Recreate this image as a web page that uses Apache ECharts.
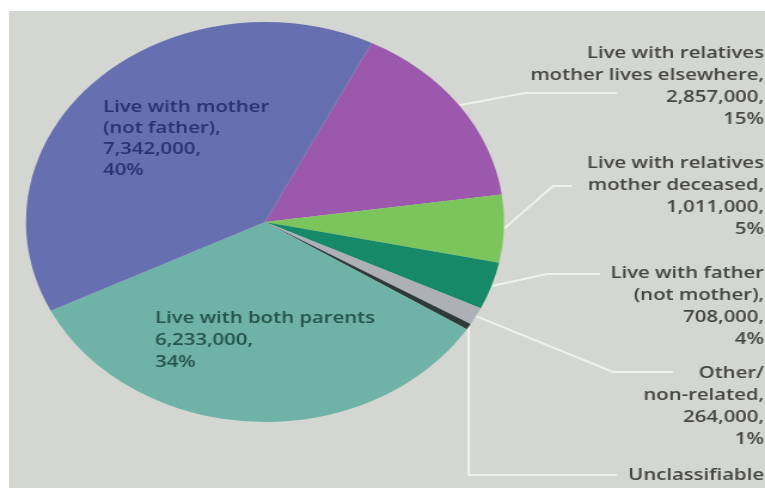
<!DOCTYPE html>
<html><head><meta charset="utf-8">
<script src="https://cdn.jsdelivr.net/npm/echarts@6/dist/echarts.min.js"></script>
<style>
html,body{margin:0;padding:0;width:765px;height:488px;overflow:hidden;background:#ffffff;}
#bg{position:absolute;left:9px;top:11px;right:0;bottom:0;background:#d3d6d1;}
#chart{position:absolute;left:0;top:0;width:640px;height:488px;transform:scaleX(1.1953);transform-origin:0 0;}
</style></head><body>
<div id="bg"></div><div id="chart"></div>
<script>
const categories = ['Live with relatives, mother lives elsewhere','Live with relatives, mother deceased','Live with father (not mother)','Other/non-related','Unclassifiable','Live with both parents','Live with mother (not father)'];
const labelTexts = [['Live with relatives','mother lives elsewhere,'],['Live with relatives','mother deceased,'],['Live with father','(not mother),'],['Other/','non-related,'],['Unclassifiable'],['Live with both parents'],['Live with mother','(not father),']];
const values = [2857000, 1011000, 708000, 264000, 90000, 6233000, 7342000];
const percentLabels = ['15%','5%','4%','1%',null,'34%','40%'];
const colors = ['#9b58ad','#7cc45c','#168a68','#aeb0b8','#2e3a3a','#6fb2a7','#6670b1'];
const textColors = ['#444444','#444444','#444444','#444444','#444444','#245349','#2a3070'];

const S = 1.1953;
const layout = [
  {x:764, y:42,  align:'right', line:[[525,93],[617,93]]},
  {x:764, y:152, align:'right', line:[[553,186],[572,186]]},
  {x:764, y:262, align:'right', line:[[547,274],[600,274]]},
  {x:764, y:362, align:'right', line:[[613,372],[673,372]]},
  {x:764, y:464, align:'right', line:[[null,475],[617,475]]},
  {x:155, y:307, align:'left'},
  {x:103, y:97,  align:'left'}
];

const chart = echarts.init(document.getElementById('chart'));
const data = categories.map((name, i) => ({
  name: name,
  value: values[i],
  itemStyle: {color: colors[i]},
  label: {color: textColors[i], lineHeight: i === 6 ? 21 : 22},
  labelLine: {show: !!layout[i].line}
}));

chart.setOption({
  animation: false,
  series: [{
    type: 'pie',
    center: [221.7, 222],
    radius: 200,
    startAngle: 63.5,
    clockwise: true,
    avoidLabelOverlap: false,
    silent: true,
    data: data,
    label: {
      show: true,
      position: 'outside',
      fontFamily: '"Open Sans", "Noto Sans", sans-serif',
      fontSize: 17,
      fontWeight: 600,
      formatter: function (p) {
        const i = p.dataIndex;
        const lines = labelTexts[i].slice();
        if (percentLabels[i]) {
          lines.push(values[i].toLocaleString('en-US') + ',');
          lines.push(percentLabels[i]);
        }
        return lines.join('\n');
      }
    },
    labelLine: {
      lineStyle: {color: '#eff1ed', width: 2}
    },
    labelLayout: function (params) {
      const L = layout[params.dataIndex];
      const res = {x: L.x / S, y: L.y, align: L.align, verticalAlign: 'top'};
      if (L.line && params.labelLinePoints) {
        const p0 = params.labelLinePoints[0];
        const p1 = L.line[0][0] === null ? [p0[0], L.line[0][1]] : [L.line[0][0] / S, L.line[0][1]];
        res.labelLinePoints = [p0, p1, [L.line[1][0] / S, L.line[1][1]]];
      }
      return res;
    }
  }]
});
</script>
</body></html>
